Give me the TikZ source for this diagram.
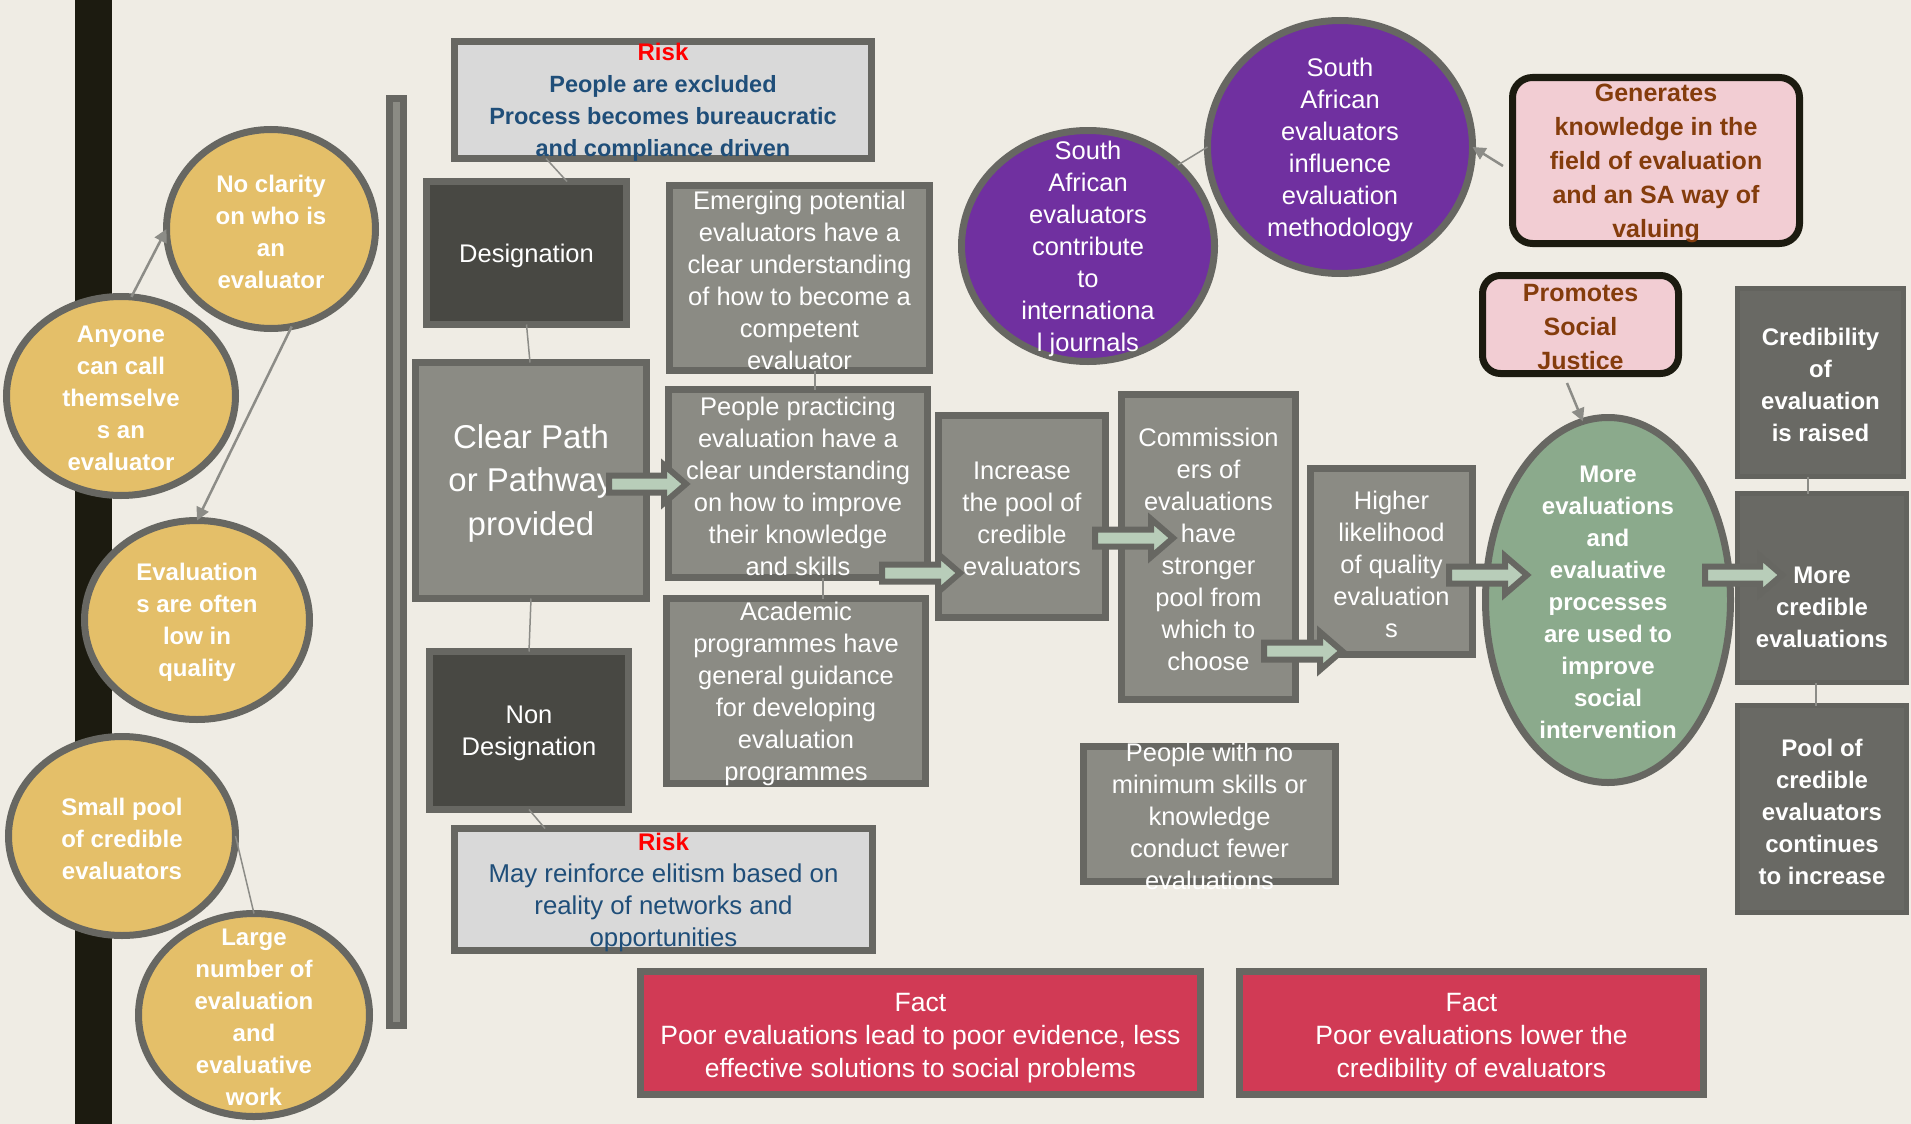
\documentclass[tikz,border=0pt]{standalone}
\usepackage{fontspec}
\setmainfont{Liberation Sans}
\usetikzlibrary{calc,shapes.geometric,arrows.meta}
\definecolor{bg}{HTML}{EFECE4}
\definecolor{barblack}{HTML}{1C1B10}
\definecolor{bord}{HTML}{676762}
\definecolor{gfill}{HTML}{8B8B84}
\definecolor{dfill}{HTML}{484843}
\definecolor{cfill}{HTML}{696964}
\definecolor{cedge}{HTML}{63635E}
\definecolor{riskfill}{HTML}{D9D9D9}
\definecolor{riskblue}{HTML}{1F4E79}
\definecolor{riskred}{HTML}{FF0000}
\definecolor{factred}{HTML}{D13A55}
\definecolor{yellfill}{HTML}{E4BF69}
\definecolor{purp}{HTML}{7030A0}
\definecolor{greenfill}{HTML}{8BAA8C}
\definecolor{pinkfill}{HTML}{F2CDD3}
\definecolor{tbrown}{HTML}{843C0C}
\definecolor{arrowfill}{HTML}{B8CDB9}
\definecolor{linegray}{HTML}{8C8C87}
\tikzset{
  every label/.style={yshift=-2.5pt},
  bx/.style={rectangle, draw=bord, line width=7pt, inner sep=0pt, outer sep=0pt},
  gbox/.style={bx, fill=gfill},
  dbox/.style={bx, fill=dfill},
  rbox/.style={bx, fill=riskfill},
  fbox/.style={bx, fill=factred},
  cbox/.style={bx, fill=cfill, draw=cedge, line width=5pt},
  pbox/.style={bx, fill=pinkfill, draw=barblack, rounded corners=20pt},
  ell/.style={ellipse, draw=bord, line width=7pt, inner sep=0pt, outer sep=0pt},
  yellipse/.style={ell, fill=yellfill},
  pellipse/.style={ell, fill=purp},
  gellipse/.style={ell, fill=greenfill},
  wtxt/.style={align=center, text=white, inner sep=0pt, font=\fontsize{25.5}{32}\selectfont},
  wbtxt/.style={align=center, text=white, inner sep=0pt, font=\bfseries\fontsize{24}{32}\selectfont},
  bigtxt/.style={align=center, text=white, inner sep=0pt, font=\fontsize{33}{43.5}\selectfont},
  risktxt/.style={align=center, text=riskblue, inner sep=0pt, font=\bfseries\fontsize{23.5}{32}\selectfont},
  risktxtb/.style={align=center, text=riskblue, inner sep=0pt, font=\fontsize{25.8}{32}\selectfont},
  facttxt/.style={align=center, text=white, inner sep=0pt, yshift=-2.5pt, font=\fontsize{26.5}{33}\selectfont},
  pinktxt/.style={align=center, text=tbrown, inner sep=0pt, font=\bfseries\fontsize{25}{34}\selectfont},
  conn/.style={draw=linegray, line width=1.5pt},
  tharrow/.style={draw=linegray, line width=2.5pt, -{Triangle[length=13pt,width=13pt]}},
  blk/.style={draw=bord, fill=arrowfill, line width=6pt, line join=miter, miter limit=10},
}
\newcommand{\blockarrow}[2]{%
  \draw[blk] let \p1=#1, \p2=#2 in
   (\x1,\y1+8.5pt) -- (\x2-22pt,\y1+8.5pt) -- (\x2-22pt,\y1+19pt) -- (\x2,\y1)
   -- (\x2-22pt,\y1-19pt) -- (\x2-22pt,\y1-8.5pt) -- (\x1,\y1-8.5pt) -- cycle;}
\begin{document}
\begin{tikzpicture}[x=1pt,y=-1pt]
\useasboundingbox (0,0) rectangle (1911,1124);
\fill[bg] (0,0) rectangle (1911,1124);
\fill[barblack] (75,0) rectangle (112,1124);
\draw[draw=bord, fill=gfill, line width=7pt] (389.5,98.5) rectangle (403.5,1025.5);

% yellow ellipses
\node[yellipse, minimum width=209pt, minimum height=199pt,
  label={[wbtxt]center:{No clarity\\on who is\\an\\evaluator}}] (noclar) at (271,229) {};
\node[yellipse, minimum width=229pt, minimum height=199pt,
  label={[wbtxt]center:{Anyone\\can call\\themselve\\s an\\evaluator}}] (anyone) at (121,396) {};
\node[yellipse, minimum width=225pt, minimum height=199pt,
  label={[wbtxt]center:{Evaluation\\s are often\\low in\\quality}}] (evallow) at (197,620) {};
\node[yellipse, minimum width=227pt, minimum height=199pt,
  label={[wbtxt]center:{Small pool\\of credible\\evaluators}}] (small) at (122,836) {};
\node[yellipse, minimum width=231pt, minimum height=203pt,
  label={[wbtxt]center:{Large\\number of\\evaluation\\and\\evaluative\\work}}] (large) at (254,1015) {};

% left column boxes
\node[rbox, minimum width=417pt, minimum height=117pt,
  label={[risktxt]center:{{\color{riskred}\bfseries\fontsize{24}{32}\selectfont Risk}\\People are excluded\\Process becomes bureaucratic\\and compliance driven}}] (risktop) at (663,100) {};
\node[dbox, minimum width=200pt, minimum height=143pt,
  label={[wtxt]center:{Designation}}] (desig) at (526.5,253) {};
\node[gbox, minimum width=231pt, minimum height=236pt,
  label={[bigtxt]center:{Clear Path\\or Pathway\\provided}}] (clear) at (531,480.5) {};
\node[dbox, minimum width=199pt, minimum height=158pt,
  label={[wtxt]center:{Non\\Designation}}] (nondes) at (529,730.5) {};
\node[rbox, minimum width=418pt, minimum height=122pt,
  label={[risktxtb]center:{{\color{riskred}\bfseries\fontsize{24}{32}\selectfont Risk}\\May reinforce elitism based on\\reality of networks and\\opportunities}}] (riskbot) at (663.5,889.5) {};

% middle boxes
\node[gbox, minimum width=260pt, minimum height=185pt,
  label={[wtxt]center:{Emerging potential\\evaluators have a\\clear understanding\\of how to become a\\competent\\evaluator}}] (emerg) at (799.5,278) {};
\node[gbox, minimum width=259pt, minimum height=188pt,
  label={[wtxt]center:{People practicing\\evaluation have a\\clear understanding\\on how to improve\\their knowledge\\and skills}}] (prac) at (798,483.5) {};
\node[gbox, minimum width=259pt, minimum height=185pt,
  label={[wtxt]center:{Academic\\programmes have\\general guidance\\for developing\\evaluation\\programmes}}] (acad) at (796,691) {};
\node[gbox, minimum width=167pt, minimum height=202pt,
  label={[wtxt]center:{Increase\\the pool of\\credible\\evaluators}}] (incr) at (1022,516.5) {};
\node[gbox, minimum width=174pt, minimum height=305pt,
  label={[wtxt]center:{Commission\\ers of\\evaluations\\have\\stronger\\pool from\\which to\\choose}}] (comm) at (1208.5,547) {};
\node[gbox, minimum width=162pt, minimum height=186pt,
  label={[wtxt]center:{Higher\\likelihood\\of quality\\evaluation\\s}}] (higher) at (1391.5,561.5) {};
\node[gbox, minimum width=252pt, minimum height=135pt,
  label={[wtxt]center:{People with no\\minimum skills or\\knowledge\\conduct fewer\\evaluations}}] (noskill) at (1209.5,814) {};

% facts
\node[fbox, minimum width=560pt, minimum height=123pt,
  label={[facttxt]center:{Fact\\Poor evaluations lead to poor evidence, less\\effective solutions to social problems}}] (fact1) at (920.5,1033) {};
\node[fbox, minimum width=464pt, minimum height=123pt,
  label={[facttxt]center:{Fact\\Poor evaluations lower the\\credibility of evaluators}}] (fact2) at (1471.5,1033) {};

% purple circles
\node[pellipse, minimum width=253pt, minimum height=231pt,
  label={[wtxt]center:{South\\African\\evaluators\\contribute\\to\\internationa\\l journals}}] (contrib) at (1088,246) {};
\node[pellipse, minimum width=265pt, minimum height=253pt,
  label={[wtxt]center:{South\\African\\evaluators\\influence\\evaluation\\methodology}}] (influ) at (1340,147) {};

% pink boxes
\node[pbox, minimum width=287pt, minimum height=166pt,
  label={[pinktxt]center:{Generates\\knowledge in the\\field of evaluation\\and an SA way of\\valuing}}] (gener) at (1656,160.5) {};
\node[pbox, minimum width=196pt, minimum height=98pt, rounded corners=18pt,
  label={[pinktxt]center:{Promotes\\Social\\Justice}}] (promo) at (1580.5,324.5) {};

% green ellipse
\node[gellipse, minimum width=245pt, minimum height=365pt,
  label={[wbtxt]center:{More\\evaluations\\and\\evaluative\\processes\\are used to\\improve\\social\\intervention}}] (green) at (1608,600) {};

% right dark boxes
\node[cbox, minimum width=166pt, minimum height=188pt,
  label={[wbtxt]center:{Credibility\\of\\evaluation\\is raised}}] (cred) at (1820.5,382.5) {};
\node[cbox, minimum width=169pt, minimum height=189pt,
  label={[wbtxt, yshift=-17pt]center:{More\\credible\\evaluations}}] (morecred) at (1822,588) {};
\node[cbox, minimum width=169pt, minimum height=207pt,
  label={[wbtxt]center:{Pool of\\credible\\evaluators\\continues\\to increase}}] (pool) at (1822,809) {};

% thin connectors
\draw[conn] ($(risktop.south)+(-117,0)$) -- ($(desig.north)+(40.5,0)$);
\draw[conn] (desig.south) -- ($(clear.north)+(-1,0)$);
\draw[conn] (clear.south) -- ($(nondes.north)+(0,0)$);
\draw[conn] (nondes.south) -- ($(riskbot.north)+(-118.5,0)$);
\draw[conn] ($(emerg.south)+(15.5,0)$) -- ($(prac.north)+(17,0)$);
\draw[conn] ($(prac.south)+(25,0)$) -- ($(acad.north)+(27,0)$);
\draw[conn] ($(cred.south)+(-12.5,0)$) -- ($(morecred.north)+(-14,0)$);
\draw[conn] ($(morecred.south)+(-6,0)$) -- ($(pool.north)+(-6,0)$);
\draw[conn] (small.east) -- (large.north);
\draw[conn] (contrib.42) -- (influ.west);

% thin arrows
\draw[tharrow] (anyone.84) -- (noclar.west);
\draw[tharrow] (noclar.-78) -- (evallow.north);
\draw[tharrow] ($(gener.west)+(-9.5,5.5)$) -- (influ.east);
\draw[tharrow] ($(promo.south)+(-13.5,9.5)$) -- (green.98);

% block arrows
\blockarrow{($(clear.east)+(-37.5,3.5)$)}{($(prac.west)+(17.5,0)$)}
\blockarrow{($(prac.south east)+(-45.5,-4.5)$)}{($(incr.west)+(21.5,0)$)}
\blockarrow{($(incr.east)+(-10.5,21.5)$)}{($(comm.west)+(51.5,0)$)}
\blockarrow{($(comm.south east)+(-31.5,-48.5)$)}{($(higher.west)+(31.5,0)$)}
\blockarrow{($(higher.east)+(-23.5,13.5)$)}{($(green.west)+(41.5,0)$)}
\blockarrow{($(green.east)+(-25.5,-25)$)}{($(morecred.west)+(44.5,0)$)}
\end{tikzpicture}
\end{document}
